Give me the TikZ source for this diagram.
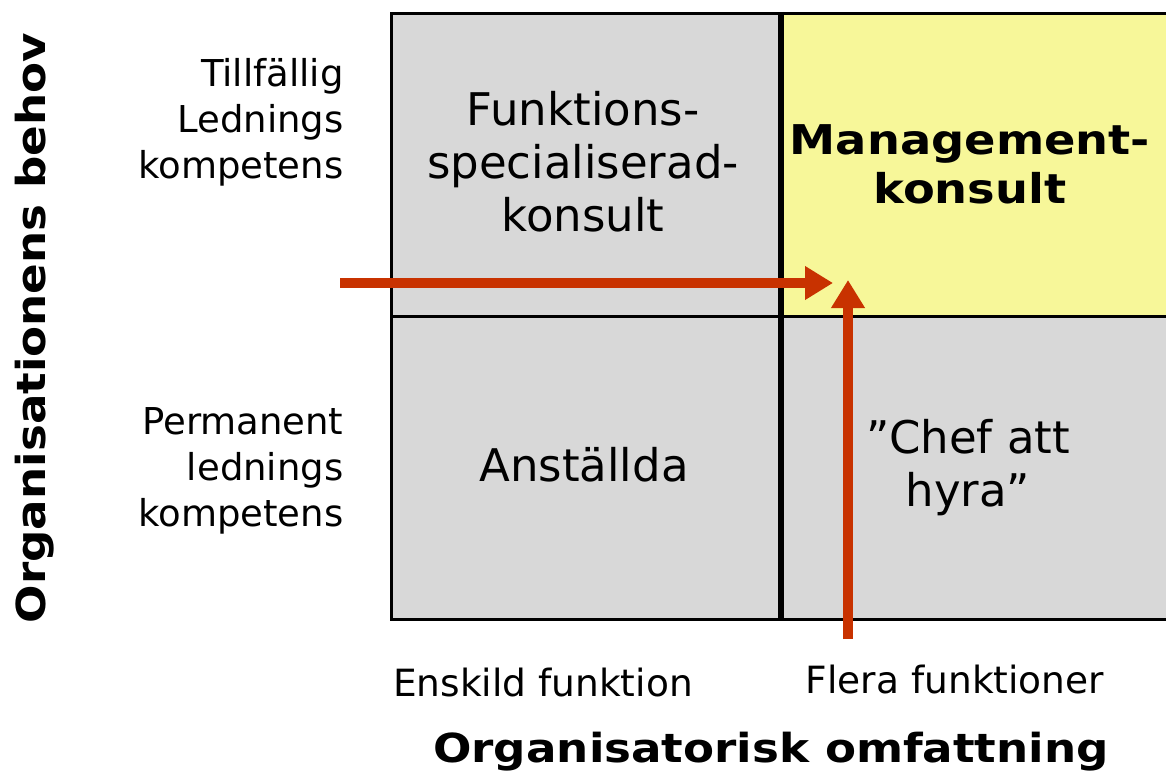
\documentclass[tikz,border=0pt]{standalone}
\usepackage{fontspec}
\setmainfont{DejaVu Sans}[BoldFeatures={FakeStretch=1.13}]
\usetikzlibrary{arrows.meta}
\definecolor{cellgray}{HTML}{D8D8D8}
\definecolor{cellyellow}{HTML}{F7F799}
\definecolor{arrowred}{HTML}{C83200}
\begin{document}
\begin{tikzpicture}[x=1pt,y=-1pt,
  cell/.style={draw=black,line width=3pt,minimum width=388pt,minimum height=303pt,inner sep=0pt,anchor=north west},
  celltext/.style={align=center,font=\fontsize{45}{53}\selectfont},
  boldtext/.style={align=center,font=\fontsize{41}{49}\selectfont\bfseries},
  sidelabel/.style={align=right,font=\fontsize{37}{46}\selectfont,anchor=east},
  axislabel/.style={font=\fontsize{37.5}{46}\selectfont},
  axistitle/.style={font=\fontsize{40}{48}\selectfont\bfseries},
  bigarrow/.style={draw=arrowred,line width=10pt,-{Triangle[length=28pt,width=32pt]}}]
\useasboundingbox (0,0) rectangle (1166,776);
\node[cell,fill=cellgray] (tl) at (390,12) {};
\node[cell,fill=cellyellow] (tr) at (778,12) {};
\node[cell,fill=cellgray] (bl) at (390,315) {};
\node[cell,fill=cellgray] (br) at (778,315) {};
\draw[line width=5pt] (tl.north east) -- (bl.south east);
\node[celltext] (t1) at (583,162) {Funktions-\\specialiserad-\\konsult};
\node[boldtext] (t2) at (970,164) {Management-\\konsult};
\node[celltext] (t3) at (584,465) {Anställda};
\node[celltext] (t4) at (968,468) {”Chef att\\hyra”};
\node[sidelabel] (l1) at (347,122) {Tillfällig\\Lednings\\kompetens};
\node[sidelabel] (l2) at (347,471) {Permanent\\lednings\\kompetens};
\node[axislabel] (b1) at (543,683) {Enskild funktion};
\node[axislabel] (b2) at (955,680) {Flera funktioner};
\node[axistitle] (xt) at (771,752) {Organisatorisk omfattning};
\node[axistitle,rotate=90] (yt) at (35,328) {Organisationens behov};
\coordinate (hs) at (340,283);
\coordinate (he) at (833,283);
\coordinate (vs) at (848,639);
\coordinate (ve) at (848,280);
\draw[bigarrow] (hs) -- (he);
\draw[bigarrow] (vs) -- (ve);
\end{tikzpicture}
\end{document}
